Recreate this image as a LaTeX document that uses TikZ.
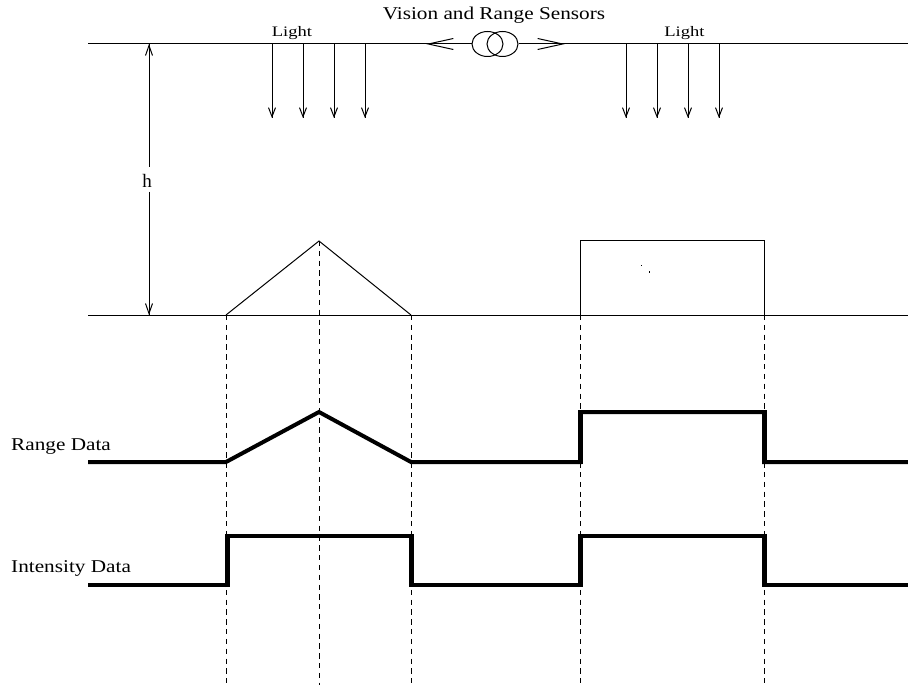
\documentclass[tikz,border=0pt]{standalone}
\usepackage{fontspec}
\setmainfont{Liberation Serif}
\newfontfamily\widefont[FakeStretch=1.18]{Liberation Serif}
\newfontfamily\widerfont[FakeStretch=1.28]{Liberation Serif}
\usetikzlibrary{arrows.meta,shapes.geometric}
\tikzset{
  thin line/.style={line width=1pt,black},
  thick line/.style={line width=4pt,black,line join=miter},
  thick rise/.style={line width=5pt,black},
  guide/.style={line width=1pt,black,dash pattern=on 5.3pt off 4.515pt},
  ray/.style={line width=1pt,black,-{Straight Barb[length=9pt,width=7pt,line width=1pt]}},
  big/.style={line width=1pt,black,-{Straight Barb[length=25pt,width=11pt,line width=1pt]}},
  dim/.style={line width=1pt,black,-{Straight Barb[length=10pt,width=7pt,line width=1pt]}},
  lens/.style={ellipse,draw,line width=1pt,minimum width=31pt,minimum height=25pt,inner sep=0pt},
  lab/.style={inner sep=0pt,font=\widefont\fontsize{18}{20}\selectfont},
  lights/.style={inner sep=0pt,font=\widerfont\fontsize{14.5}{16}\selectfont}
}
\begin{document}
\begin{tikzpicture}[x=1pt,y=-1pt]
\useasboundingbox (0,0) rectangle (908,687);
% coordinates
\coordinate (TL) at (88,44);
\coordinate (TR) at (908,44);
\coordinate (BL) at (88,315);
\coordinate (BR) at (908,315);
\coordinate (hT) at (149,44);
\coordinate (hB) at (149,315);
\foreach \n/\x in {a/272,b/303,c/334,d/365,e/626,f/657,g/688,i/719}{
  \coordinate (\n0) at (\x,44);
  \coordinate (\n1) at (\x,118);
}
\coordinate (aL) at (426,44);
\coordinate (aR) at (565,44);
\coordinate (tri1) at (226,315);
\coordinate (tri2) at (319,241);
\coordinate (tri3) at (411,315);
\coordinate (rc1) at (580,315);
\coordinate (rc2) at (580,241);
\coordinate (rc3) at (764,241);
\coordinate (rc4) at (764,315);
\foreach \n/\x in {p/226,q/319,r/411,s/580,t/764}{
  \coordinate (\n E) at (\x,685);
}
% baselines
\draw[thin line] (TL) -- (aL);
\draw[thin line] (aR) -- (TR);
\draw[thin line] (BL) -- (BR);
% sensors
\node[lens] (lensA) at (487.5,44) {};
\node[lens] (lensB) at (502.5,44) {};
\draw[thin line] (lensA.west) -- (aL);
\draw[thin line] (lensB.east) -- (aR);
\draw[big] (lensA.west) -- (aL);
\draw[big] (lensB.east) -- (aR);
% light rays
\foreach \n in {a,b,c,d,e,f,g,i}{
  \draw[thin line] (\n0) -- (\n1);
  \draw[ray] (\n0) -- (\n1);
}
% height
\node[inner sep=0pt,font=\fontsize{19}{21}\selectfont] (h) at (147,181) {h};
\coordinate (hU) at (149,167);
\coordinate (hD) at (149,192);
\draw[thin line] (hU) -- (hT);
\draw[thin line] (hD) -- (hB);
\draw[dim] (hU) -- (hT);
\draw[dim] (hD) -- (hB);
% objects
\draw[thin line] (tri1) -- (tri2) -- (tri3);
\draw[thin line] (rc1) -- (rc2) -- (rc3) -- (rc4);
\fill (641.2,264.6) rectangle (642.2,265.6);
\fill (649,271.5) rectangle (650,272.7);
% guides
\draw[guide] (tri1) -- (pE);
\draw[guide] (tri2) -- (qE);
\draw[guide] (tri3) -- (rE);
\draw[guide] (rc1) -- (sE);
\draw[guide] (rc4) -- (tE);
% signals
\draw[thick line] (88,462) -- (226,462) -- (319,412) -- (411,462) -- (580,462) -- (580,412) -- (764,412) -- (764,462) -- (908,462);
\draw[thick line] (88,585) -- (227,585) -- (227,536) -- (411,536) -- (411,585) -- (580,585) -- (580,536) -- (764,536) -- (764,585) -- (908,585);
\draw[thick rise] (580,464) -- (580,410);
\draw[thick rise] (764,410) -- (764,464);
\draw[thick rise] (227,587) -- (227,534);
\draw[thick rise] (411,534) -- (411,587);
\draw[thick rise] (580,587) -- (580,534);
\draw[thick rise] (764,534) -- (764,587);
% labels
\node[lab] (title) at (494,15) {Vision and Range Sensors};
\node[lights] (l1) at (292,33) {Light};
\node[lights] (l2) at (684.5,33) {Light};
\node[lab,anchor=base west] (rd) at (11,450) {Range Data};
\node[lab,anchor=base west] (id) at (11,572) {Intensity Data};
\end{tikzpicture}
\end{document}
